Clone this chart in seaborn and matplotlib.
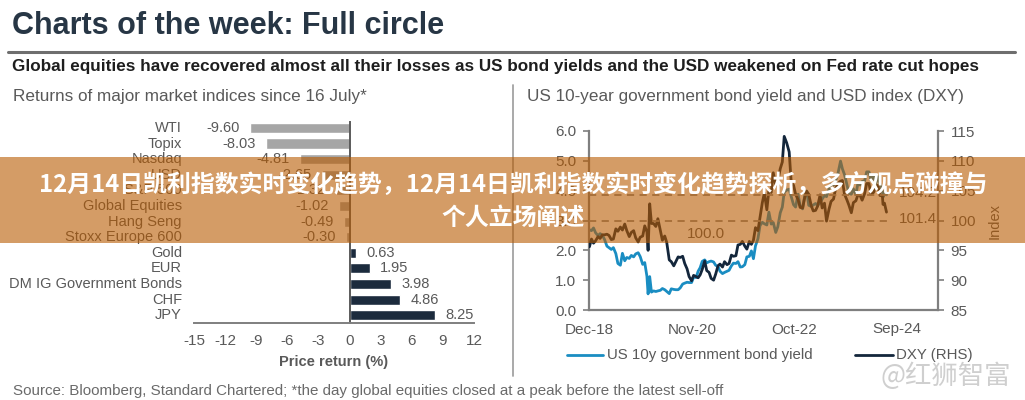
import numpy as np
import pandas as pd
import matplotlib
matplotlib.use("Agg")
import matplotlib.pyplot as plt
import matplotlib.transforms as mtransforms
from matplotlib.patches import Rectangle
from matplotlib.lines import Line2D
import seaborn as sns

# ---------------- data ----------------
categories = ["WTI", "Topix", "Nasdaq", "USD", "S&P 500", "Global Equities", "Hang Seng",
              "Stoxx Europe 600", "Gold", "EUR", "DM IG Government Bonds", "CHF", "JPY"]
returns = [-9.60, -8.03, -4.81, -2.65, -1.32, -1.02, -0.49, -0.30, 0.63, 1.95, 3.98, 4.86, 8.25]
return_ticks = [-15, -12, -9, -6, -3, 0, 3, 6, 9, 12]

dates = [
    # 2019
    "2019-02-01", "2019-02-15", "2019-03-01", "2019-03-15", "2019-04-01", "2019-04-15",
    "2019-05-01", "2019-05-15", "2019-06-01", "2019-06-15", "2019-07-01", "2019-07-15",
    "2019-08-01", "2019-08-15", "2019-09-01", "2019-09-15", "2019-10-01", "2019-10-15",
    "2019-11-01", "2019-11-15", "2019-12-01", "2019-12-15",
    # 2020
    "2020-01-01", "2020-01-15", "2020-02-01", "2020-02-15", "2020-03-01", "2020-03-09",
    "2020-03-20", "2020-04-01", "2020-04-15", "2020-05-01", "2020-05-15", "2020-06-01",
    "2020-06-15", "2020-07-01", "2020-07-15", "2020-08-01", "2020-08-15", "2020-09-01",
    "2020-09-15", "2020-10-01", "2020-10-15", "2020-11-01", "2020-11-15", "2020-12-01",
    "2020-12-15",
    # 2021
    "2021-01-01", "2021-01-15", "2021-02-01", "2021-02-15", "2021-03-01", "2021-03-15",
    "2021-04-01", "2021-04-15", "2021-05-01", "2021-05-15", "2021-06-01", "2021-06-15",
    "2021-07-01", "2021-07-15", "2021-08-01", "2021-08-15", "2021-09-01", "2021-09-15",
    "2021-10-01", "2021-10-15", "2021-11-01", "2021-11-15", "2021-12-01", "2021-12-15",
    # 2022
    "2022-01-01", "2022-01-15", "2022-02-01", "2022-02-15", "2022-03-01", "2022-03-15",
    "2022-04-01", "2022-04-15", "2022-05-01", "2022-05-15", "2022-06-01", "2022-06-15",
    "2022-07-01", "2022-07-15", "2022-08-01", "2022-08-15", "2022-09-01", "2022-09-15",
    "2022-09-28", "2022-10-15", "2022-11-01", "2022-11-15", "2022-12-01", "2022-12-15",
    # 2023
    "2023-01-01", "2023-01-15", "2023-02-01", "2023-02-15", "2023-03-01", "2023-03-15",
    "2023-04-01", "2023-04-15", "2023-05-01", "2023-05-15", "2023-06-01", "2023-06-15",
    "2023-07-01", "2023-07-15", "2023-08-01", "2023-08-15", "2023-09-01", "2023-09-15",
    "2023-10-01", "2023-10-19", "2023-11-01", "2023-11-15", "2023-12-01", "2023-12-15",
    # 2024
    "2024-01-01", "2024-01-15", "2024-02-01", "2024-02-15", "2024-03-01", "2024-03-15",
    "2024-04-01", "2024-04-15", "2024-05-01", "2024-05-15", "2024-06-01", "2024-06-15",
    "2024-07-01", "2024-07-15", "2024-08-01", "2024-08-05", "2024-08-15", "2024-08-29",
]

ust10y = [
    2.69, 2.66, 2.75, 2.59, 2.49, 2.56, 2.50, 2.37, 2.14, 2.09, 2.03, 2.09,
    1.89, 1.56, 1.50, 1.90, 1.65, 1.76, 1.73, 1.83, 1.78, 1.88,
    1.92, 1.79, 1.53, 1.59, 1.13, 0.54, 1.12, 0.60, 0.64, 0.62, 0.64, 0.66,
    0.72, 0.68, 0.62, 0.55, 0.71, 0.69, 0.68, 0.68, 0.74, 0.87, 0.90, 0.93, 0.92,
    0.92, 1.10, 1.09, 1.30, 1.42, 1.63, 1.68, 1.58, 1.62, 1.64, 1.61, 1.50,
    1.46, 1.30, 1.22, 1.26, 1.30, 1.33, 1.48, 1.57, 1.56, 1.62, 1.44, 1.45,
    1.52, 1.78, 1.80, 1.98, 1.72, 2.15, 2.39, 2.83, 2.94, 2.89, 2.85, 3.28,
    2.88, 2.93, 2.60, 2.79, 3.26, 3.45, 3.95, 4.02, 4.05, 3.80, 3.53, 3.45,
    3.88, 3.50, 3.39, 3.81, 3.99, 3.51, 3.47, 3.52, 3.57, 3.50, 3.61, 3.72,
    3.84, 3.80, 4.05, 4.22, 4.18, 4.33, 4.57, 4.99, 4.73, 4.54, 4.22, 3.91,
    3.88, 4.06, 3.87, 4.24, 4.19, 4.31, 4.33, 4.63, 4.63, 4.35, 4.51, 4.22,
    4.47, 4.23, 3.98, 3.78, 3.91, 3.86,
]

dxy = [
    95.6, 96.9, 96.2, 96.6, 97.3, 97.0, 97.6, 97.6, 97.7, 97.5, 96.8, 96.9,
    98.6, 98.2, 98.9, 98.4, 99.4, 98.3, 97.3, 98.0, 98.3, 97.1,
    96.4, 97.2, 97.4, 99.1, 98.1, 95.0, 102.8, 99.5, 99.5, 99.0, 100.3, 98.3,
    96.7, 97.4, 96.3, 93.4, 93.1, 92.4, 93.1, 93.9, 93.8, 94.0, 92.8, 91.9, 90.6,
    89.9, 90.8, 90.6, 90.4, 90.9, 91.8, 93.2, 91.6, 91.3, 90.3, 90.0, 91.0,
    92.4, 92.7, 92.2, 93.1, 92.6, 92.8, 94.2, 94.0, 94.1, 95.9, 96.0, 96.5,
    95.7, 95.2, 96.5, 96.0, 96.7, 98.8, 98.3, 100.5, 103.0, 104.6, 101.8, 105.1,
    104.7, 108.0, 105.9, 106.6, 108.7, 109.8, 114.1, 113.0, 111.5, 106.4, 105.9, 104.4,
    103.5, 102.2, 102.1, 103.8, 104.9, 104.4, 102.5, 101.6, 101.7, 102.4, 104.3, 102.1,
    102.9, 99.9, 101.9, 103.2, 103.6, 105.3, 106.2, 106.6, 106.7, 104.4, 103.5, 102.6,
    101.3, 103.0, 103.3, 104.3, 104.2, 103.4, 104.5, 106.2, 106.2, 104.4, 104.7, 105.5,
    105.9, 104.2, 104.1, 102.7, 102.9, 101.4,
]
dxy_ref_levels = [104.2, 100.0]
yield_ticks = [0, 1, 2, 3, 4, 5, 6]
dxy_ticks = [85, 90, 95, 100, 105, 110, 115]
date_tick_pos = ["2019-01-29", "2021-01-05", "2022-12-07", "2024-11-06"]
date_tick_labels = ["Dec-18", "Nov-20", "Oct-22", "Sep-24"]

banner_line1 = "12月14日凯利指数实时变化趋势，12月14日凯利指数实时变化趋势探析，多方观点碰撞与"
banner_line2 = "个人立场阐述"

# ---------------- style ----------------
sns.set_style("white")
plt.rcParams["font.family"] = ["Liberation Sans", "Noto Sans CJK SC", "DejaVu Sans"]
CJK = ["Noto Sans CJK SC", "DejaVu Sans"]

W, H = 1025, 400
fig = plt.figure(figsize=(W / 100, H / 100), dpi=100)
fig.patch.set_facecolor("white")


def fx(px):
    return px / W


def fy(py):
    return 1 - py / H


GRAY = "#595959"
AXGRAY = "#7f7f7f"
BLUE = "#1a8dc2"
NAVY = "#13263b"
NEG = "#a6a6a6"
POS = "#1c2b3d"

# ---------------- header ----------------
fig.text(fx(12), fy(26), "Charts of the week: Full circle", fontsize=22, fontweight="bold",
         color="#273645", va="center", ha="left")
fig.add_artist(Line2D([fx(8), fx(1015)], [fy(52), fy(52)], color="#6e6e6e", lw=2.2))
fig.text(fx(12), fy(67), "Global equities have recovered almost all their losses as US bond yields "
         "and the USD weakened on Fed rate cut hopes", fontsize=12.3, fontweight="bold",
         color="#1e1e1e", va="center", ha="left")

fig.text(fx(13), fy(97), "Returns of major market indices since 16 July*", fontsize=12.3,
         color=GRAY, va="center", ha="left")
fig.text(fx(527), fy(97), "US 10-year government bond yield and USD index (DXY)", fontsize=12.3,
         color=GRAY, va="center", ha="left")
fig.add_artist(Line2D([fx(513), fx(513)], [fy(85), fy(376)], color="#a3a3a3", lw=1.3))

# ---------------- left: bar chart ----------------
ax1 = fig.add_axes([fx(194), fy(323), (474 - 194) / W, (323 - 122.5) / H])
df1 = pd.DataFrame({"cat": categories, "ret": returns})
colors = [NEG if v < 0 else POS for v in returns]
sns.barplot(data=df1, x="ret", y="cat", hue="cat", order=categories, hue_order=categories,
            palette=colors, orient="h", width=0.65, saturation=1, legend=False, ax=ax1)
ax1.set_xlim(return_ticks[0], return_ticks[-1])
ax1.set_ylim(len(categories) - 0.5, -0.35)
for s in ["top", "right"]:
    ax1.spines[s].set_visible(False)
ax1.spines["left"].set_position(("data", 0))
ax1.spines["left"].set_color("#5a5a5a")
ax1.spines["left"].set_linewidth(1.4)
ax1.spines["bottom"].set_color(AXGRAY)
ax1.spines["bottom"].set_linewidth(1.4)
ax1.set_yticks(np.arange(0.5, len(categories) - 0.5, 1))
ax1.set_yticklabels([])
ax1.set_xticks(return_ticks)
ax1.set_xticklabels([str(t) for t in return_ticks])
ax1.tick_params(axis="y", length=4, width=1, color="#5a5a5a", direction="out")
ax1.tick_params(axis="x", length=4, width=1, color=AXGRAY, direction="out",
                labelsize=11, labelcolor=GRAY, pad=4)
ax1.set_ylabel("")
ax1.set_xlabel("Price return (%)", fontsize=10.5, fontweight="bold", color=GRAY, labelpad=5)
trans = mtransforms.blended_transform_factory(ax1.transAxes, ax1.transData)
for i, (c, v) in enumerate(zip(categories, returns)):
    ax1.text(-0.043, i, c, transform=trans, ha="right", va="center", fontsize=10.5,
             color=GRAY, clip_on=False)
    off = -7.5 if v < 0 else 7.5
    ax1.annotate(f"{v:.2f}", xy=(v, i), xytext=(off, 0), textcoords="offset points",
                 ha="right" if v < 0 else "left", va="center", fontsize=10.5, color=GRAY)

# ---------------- right: line chart ----------------
dts = pd.to_datetime(dates)
ax2 = fig.add_axes([fx(589), fy(310), (938 - 589) / W, (310 - 131) / H])
sns.lineplot(x=dts, y=ust10y, ax=ax2, color=BLUE, lw=2)
ax3 = ax2.twinx()
sns.lineplot(x=dts, y=dxy, ax=ax3, color=NAVY, lw=2)
x_end = pd.Timestamp("2024-09-05")
ax3.hlines(dxy_ref_levels, dts[0], x_end, colors="#8a8a8a", linestyles=(0, (4, 3)), lw=1.3)

ax2.set_xlim(pd.Timestamp("2019-01-29"), pd.Timestamp("2025-08-17"))
ax2.set_ylim(yield_ticks[0], yield_ticks[-1])
ax3.set_ylim(dxy_ticks[0], dxy_ticks[-1])
ax2.set_xticks(pd.to_datetime(date_tick_pos))
ax2.set_xticklabels(date_tick_labels)
ax2.set_yticks(yield_ticks)
ax2.set_yticklabels([f"{t:.1f}" for t in yield_ticks])
ax3.set_yticks(dxy_ticks)
ax3.set_yticklabels([str(t) for t in dxy_ticks])
for s in ["top", "right"]:
    ax2.spines[s].set_visible(False)
for s in ["top", "left", "bottom"]:
    ax3.spines[s].set_visible(False)
for sp in [ax2.spines["left"], ax2.spines["bottom"], ax3.spines["right"]]:
    sp.set_color(AXGRAY)
    sp.set_linewidth(1.6)
ax2.tick_params(axis="both", length=4, width=1.2, color=AXGRAY, direction="out",
                labelsize=11, labelcolor=GRAY, pad=5)
ax3.tick_params(axis="y", length=4, width=1.2, color=AXGRAY, direction="out",
                labelsize=11, labelcolor=GRAY, pad=5)
ax2.set_xlabel("")
ax3.set_xlabel("")
ax2.set_ylabel("")
ax3.set_ylabel("")
ax2.grid(False)
ax3.grid(False)
ax3.text(pd.Timestamp("2021-04-10"), 97.7, "100.0", fontsize=11, color=GRAY,
         ha="center", va="center")
ax3.text(pd.Timestamp("2024-11-24"), 100.2, "101.4", fontsize=11, color=GRAY,
         ha="left", va="center")
ax3.text(pd.Timestamp("2024-11-20"), 104.6, "104.2", fontsize=11, color=GRAY,
         ha="left", va="center")
fig.text(fx(995), fy(221), "Index", rotation=90, fontsize=10.5, color=GRAY,
         ha="center", va="center")

# legend
fig.add_artist(Line2D([fx(567), fx(603)], [fy(355), fy(355)], color=BLUE, lw=2))
fig.text(fx(607), fy(355), "US 10y government bond yield", fontsize=10.8, color=GRAY,
         ha="left", va="center")
fig.add_artist(Line2D([fx(855), fx(893)], [fy(355), fy(355)], color=NAVY, lw=2))
fig.text(fx(896), fy(355), "DXY (RHS)", fontsize=10.8, color=GRAY, ha="left", va="center")

# source
fig.text(fx(13), fy(391), "Source: Bloomberg, Standard Chartered; *the day global equities closed "
         "at a peak before the latest sell-off", fontsize=10.9, color="#6a6a6a",
         ha="left", va="center")

# watermark
fig.text(fx(880), fy(376), "@红狮智富", fontsize=19, color="#cfcfcf", family=CJK,
         ha="left", va="center")

# ---------------- banner overlay ----------------
fig.add_artist(Rectangle((0, fy(243)), 1, (243 - 157) / H, transform=fig.transFigure,
                         facecolor="#B85A00", alpha=0.6, edgecolor="none", zorder=20))
fig.text(fx(513), fy(185), banner_line1, fontsize=17.2, fontweight="bold", color="white",
         family=CJK, ha="center", va="center", zorder=21)
fig.text(fx(513), fy(218), banner_line2, fontsize=17.2, fontweight="bold", color="white",
         family=CJK, ha="center", va="center", zorder=21)

fig.savefig("out.png", dpi=100, facecolor="white")
